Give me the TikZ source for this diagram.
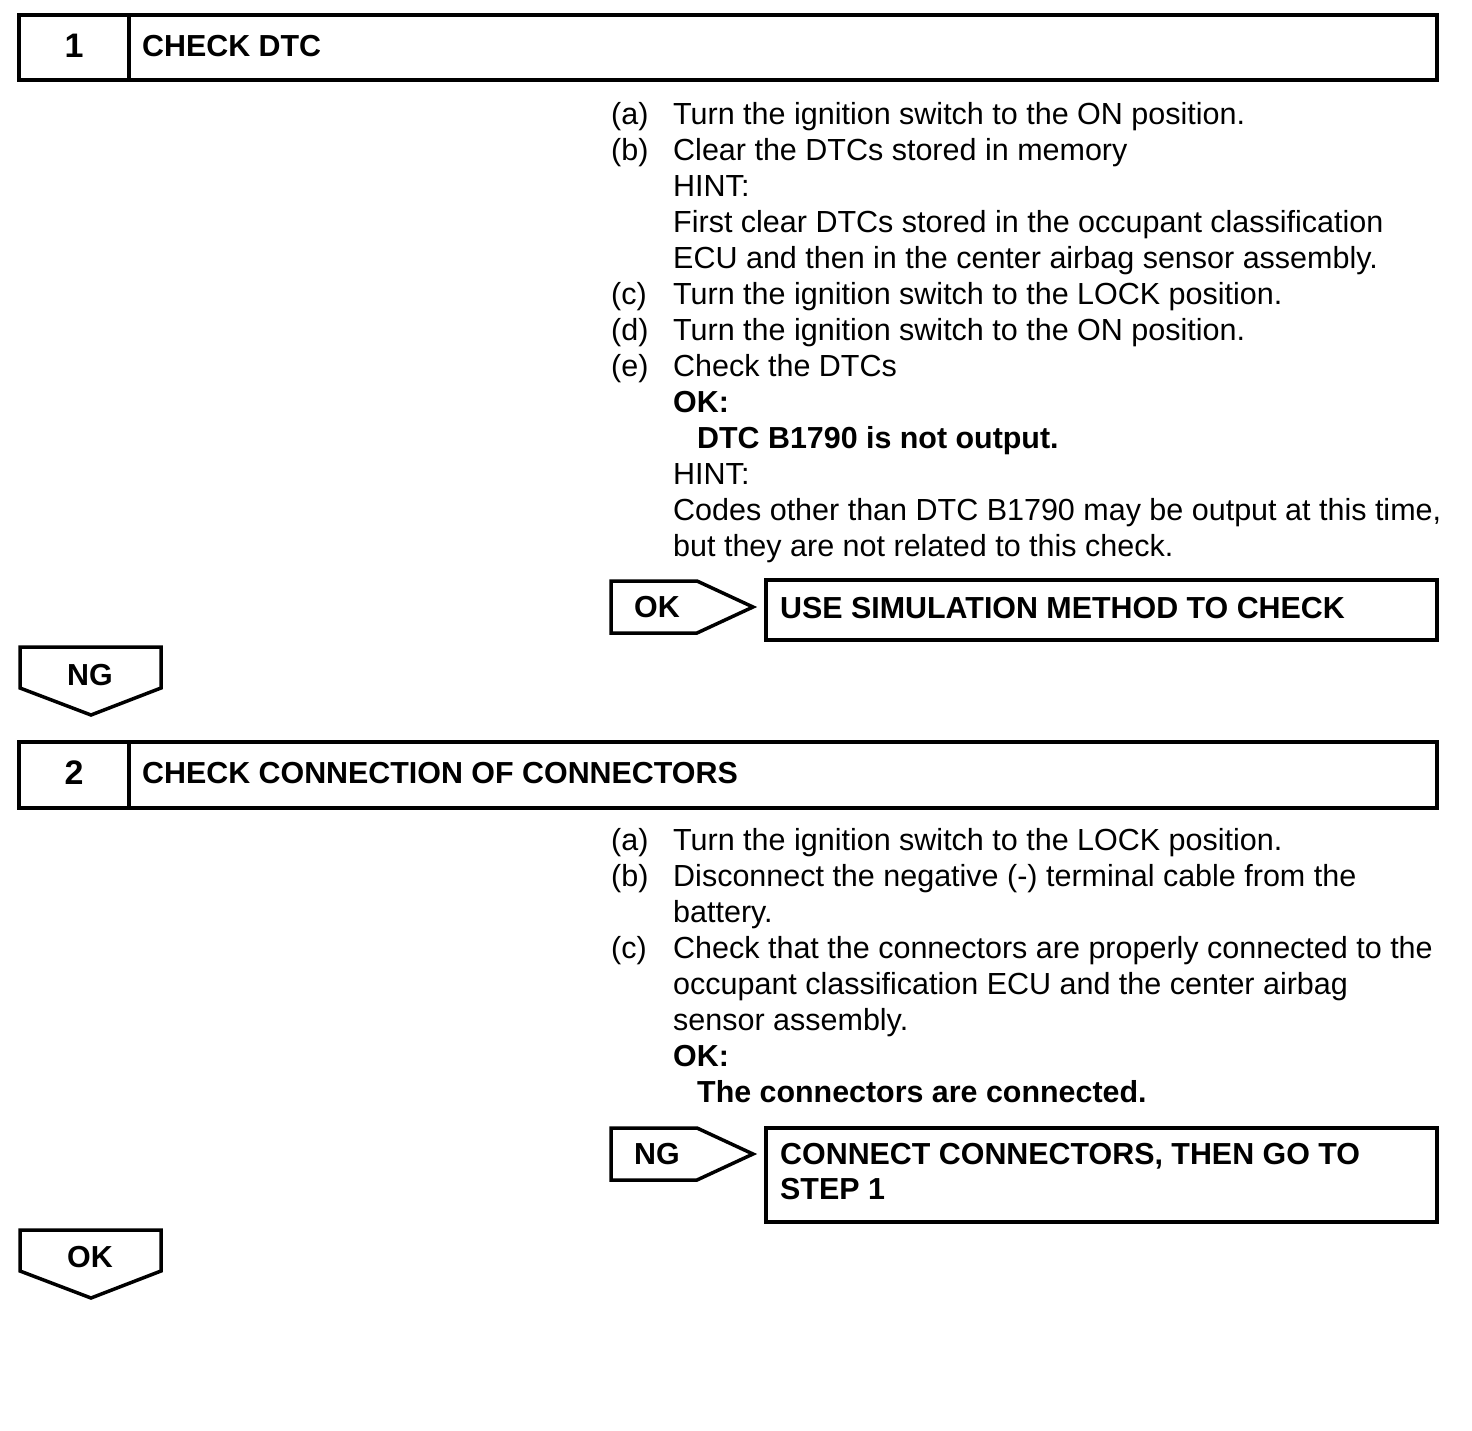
\documentclass[tikz,border=0pt]{standalone}
\usepackage{fontspec}
\setmainfont{Liberation Sans}
\begin{document}
\begin{tikzpicture}[x=1pt,y=-1pt,
  t/.style={anchor=base west, inner sep=0pt, font=\fontsize{30.5}{36}\selectfont},
  tb/.style={anchor=base west, inner sep=0pt, font=\fontsize{30.4}{36}\selectfont\bfseries},
  tc/.style={anchor=base, inner sep=0pt, font=\fontsize{30.4}{36}\selectfont\bfseries},
  tn/.style={anchor=base, inner sep=0pt, font=\fontsize{34}{36}\selectfont\bfseries},
  frame/.style={draw=black, line width=3.5pt, line join=miter}]
\useasboundingbox (0,0) rectangle (1472,1430);
% ---------- step 1 ----------
\draw[frame] (19,15) rectangle (1437,80);
\draw[frame] (129,15) -- (129,80);
\node[tn] (n1) at (74,57) {1};
\node[tb] (h1) at (142,56) {CHECK DTC};
\node[t] (a1) at (611,124.5) {(a)};
\node[t] (a1t) at (673,124.5) {Turn the ignition switch to the ON position.};
\node[t] (b1) at (611,160.5) {(b)};
\node[t] (b1t) at (673,160.5) {Clear the DTCs stored in memory};
\node[t] (b1h) at (673,196.5) {HINT:};
\node[t] (b1h1) at (673,232.5) {First clear DTCs stored in the occupant classification};
\node[t] (b1h2) at (673,268.5) {ECU and then in the center airbag sensor assembly.};
\node[t] (c1) at (611,304.5) {(c)};
\node[t] (c1t) at (673,304.5) {Turn the ignition switch to the LOCK position.};
\node[t] (d1) at (611,340.5) {(d)};
\node[t] (d1t) at (673,340.5) {Turn the ignition switch to the ON position.};
\node[t] (e1) at (611,376.5) {(e)};
\node[t] (e1t) at (673,376.5) {Check the DTCs};
\node[tb] (ok1) at (673,412.5) {OK:};
\node[tb] (ok1t) at (697,448.5) {DTC B1790 is not output.};
\node[t] (e1h) at (673,484.5) {HINT:};
\node[t] (e1h1) at (673,520.5) {Codes other than DTC B1790 may be output at this time,};
\node[t] (e1h2) at (673,556.5) {but they are not related to this check.};
\draw[frame] (611,581) -- (697,581) -- (753,607) -- (697,633) -- (611,633) -- cycle;
\node[tb] (okarrow) at (634,617.5) {OK};
\draw[frame] (766,580) rectangle (1437,640);
\node[tb] (r1) at (780,618.5) {USE SIMULATION METHOD TO CHECK};
\draw[frame] (20,647) -- (161,647) -- (161,688) -- (91,715) -- (20,688) -- cycle;
\node[tc] (ngdown) at (90,685) {NG};
% ---------- step 2 ----------
\draw[frame] (19,742) rectangle (1437,808);
\draw[frame] (129,742) -- (129,808);
\node[tn] (n2) at (74,784) {2};
\node[tb] (h2) at (142,783) {CHECK CONNECTION OF CONNECTORS};
\node[t] (a2) at (611,850.5) {(a)};
\node[t] (a2t) at (673,850.5) {Turn the ignition switch to the LOCK position.};
\node[t] (b2) at (611,886.5) {(b)};
\node[t] (b2t) at (673,886.5) {Disconnect the negative (-) terminal cable from the};
\node[t] (b2t2) at (673,922.5) {battery.};
\node[t] (c2) at (611,958.5) {(c)};
\node[t] (c2t) at (673,958.5) {Check that the connectors are properly connected to the};
\node[t] (c2t2) at (673,994.5) {occupant classification ECU and the center airbag};
\node[t] (c2t3) at (673,1030.5) {sensor assembly.};
\node[tb] (ok2) at (673,1066.5) {OK:};
\node[tb] (ok2t) at (697,1102.5) {The connectors are connected.};
\draw[frame] (611,1128) -- (697,1128) -- (753,1154) -- (697,1180) -- (611,1180) -- cycle;
\node[tb] (ngarrow) at (634,1164) {NG};
\draw[frame] (766,1128) rectangle (1437,1222);
\node[tb] (r2) at (780,1164.5) {CONNECT CONNECTORS, THEN GO TO};
\node[tb] (r2b) at (780,1199.5) {STEP 1};
\draw[frame] (20,1230) -- (161,1230) -- (161,1271) -- (91,1298) -- (20,1271) -- cycle;
\node[tc] (okdown) at (90,1267) {OK};
\end{tikzpicture}
\end{document}
